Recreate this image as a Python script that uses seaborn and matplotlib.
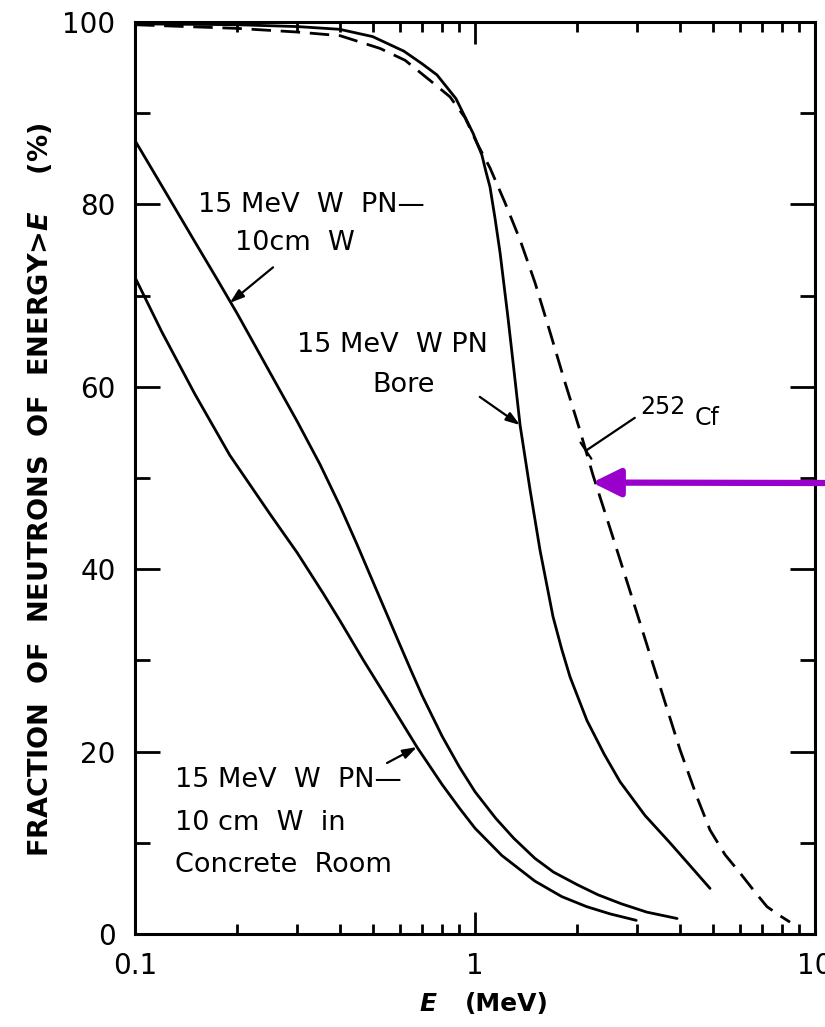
import matplotlib
matplotlib.use('Agg')
import matplotlib.pyplot as plt
from matplotlib.ticker import MultipleLocator, LogLocator, NullFormatter
import seaborn as sns

# fraction of neutrons with energy > E (%)
E_wall = [0.1, 0.125, 0.15, 0.175, 0.2, 0.25, 0.3, 0.35, 0.4, 0.45, 0.5, 0.55, 0.6,
          0.65, 0.7, 0.8, 0.9, 1.0, 1.15, 1.3, 1.5, 1.7, 2.0, 2.3, 2.7, 3.2, 3.93]
f_wall = [87.0, 80.9, 75.9, 71.7, 68.0, 61.5, 56.2, 51.5, 47.0, 42.7, 38.7, 35.1, 31.8,
          28.8, 26.1, 21.7, 18.3, 15.6, 12.7, 10.5, 8.3, 6.8, 5.4, 4.3, 3.3, 2.4, 1.7]

E_room = [0.1, 0.12, 0.15, 0.19, 0.25, 0.3, 0.357, 0.4, 0.47, 0.55, 0.675, 0.8, 0.9,
          1.0, 1.2, 1.5, 1.8, 2.13, 2.5, 2.98]
f_room = [72.0, 66.0, 59.2, 52.5, 46.0, 41.8, 37.4, 34.4, 30.0, 25.9, 20.5, 16.4, 13.8,
          11.6, 8.6, 5.8, 4.1, 3.0, 2.2, 1.5]

E_bore = [0.1, 0.2, 0.3, 0.4, 0.5, 0.618, 0.7, 0.773, 0.879, 0.987, 1.048, 1.075,
          1.107, 1.145, 1.185, 1.251, 1.302, 1.357, 1.452, 1.553, 1.696, 1.8, 1.903,
          2.135, 2.4, 2.67, 3.162, 3.745, 4.29, 4.912]
f_bore = [99.8, 99.7, 99.5, 99.2, 98.4, 96.8, 95.4, 94.2, 91.6, 87.8, 85.4, 83.7,
          81.9, 78.5, 74.7, 67.5, 61.8, 55.8, 48.7, 42.1, 34.8, 31.2, 28.2,
          23.4, 19.7, 16.7, 13.0, 10.0, 7.5, 5.0]

E_cf = [0.1, 0.2, 0.3, 0.401, 0.526, 0.623, 0.737, 0.844, 0.935, 1.014, 1.107, 1.225,
        1.357, 1.502, 1.662, 1.839, 2.036, 2.224, 2.495, 2.857, 3.383, 4.009, 4.498,
        4.912, 5.436, 6.017, 6.661, 7.224, 7.889, 8.444]
f_cf = [99.7, 99.3, 98.9, 98.5, 97.1, 95.8, 93.6, 91.8, 89.5, 86.7, 84.0, 80.2,
        76.1, 71.4, 66.0, 60.5, 55.2, 50.3, 44.5, 37.6, 28.9, 20.2, 15.0,
        11.4, 8.7, 6.7, 4.6, 3.0, 2.0, 1.3]

sns.set_style('ticks')
plt.rcParams['font.family'] = ['DejaVu Sans']
plt.rcParams['text.color'] = 'black'
plt.rcParams['xtick.color'] = 'black'
plt.rcParams['ytick.color'] = 'black'
plt.rcParams['mathtext.fontset'] = 'custom'
plt.rcParams['mathtext.it'] = 'DejaVu Sans:italic:bold'
plt.rcParams['mathtext.rm'] = 'DejaVu Sans:bold'

fig = plt.figure(figsize=(8.25, 10.27), dpi=100)
ax = fig.add_axes([0.16364, 0.09055, 0.82424, 0.88802])

lw = 2.0
sns.lineplot(x=E_wall, y=f_wall, ax=ax, color='black', lw=lw, estimator=None, sort=False)
sns.lineplot(x=E_room, y=f_room, ax=ax, color='black', lw=lw, estimator=None, sort=False)
sns.lineplot(x=E_bore, y=f_bore, ax=ax, color='black', lw=lw, estimator=None, sort=False)
sns.lineplot(x=E_cf, y=f_cf, ax=ax, color='black', lw=lw, estimator=None, sort=False,
             linestyle=(0, (7, 3.5)))

ax.set_xscale('log')
ax.set_xlim(0.1, 10)
ax.set_ylim(0, 100)
ax.set_xticks([0.1, 1, 10])
ax.set_xticklabels(['0.1', '1', '10'])
ax.xaxis.set_minor_locator(LogLocator(base=10, subs=range(2, 10)))
ax.xaxis.set_minor_formatter(NullFormatter())
ax.yaxis.set_major_locator(MultipleLocator(20))
ax.yaxis.set_minor_locator(MultipleLocator(10))
ax.set_xlabel('')
ax.set_ylabel('')

for s in ax.spines.values():
    s.set_visible(True)
    s.set_linewidth(2.2)
    s.set_color('black')

ax.tick_params(which='both', direction='in', top=True, right=True, colors='black', width=2)
ax.tick_params(axis='y', which='major', length=18, pad=14, labelsize=20)
ax.tick_params(axis='y', which='minor', length=11)
ax.tick_params(axis='x', which='major', length=16, pad=13, labelsize=20)
ax.tick_params(axis='x', which='minor', length=7)

# axis titles
fig.text(0.048, 1 - 490 / 1027, r'FRACTION  OF  NEUTRONS  OF  ENERGY>$E$    (%)',
         rotation=90, ha='center', va='center', fontsize=19.5, fontweight='bold')
fig.text(428 / 825, 1 - 1004 / 1027, 'E', ha='center', va='center',
         fontsize=18, fontweight='bold', fontstyle='italic')
fig.text(507 / 825, 1 - 1004 / 1027, '(MeV)', ha='center', va='center',
         fontsize=18, fontweight='bold')

fs = 19.5
tk = dict(transform=ax.transAxes, fontsize=fs, va='center', ha='left')
head = dict(arrowstyle='-|>,head_length=0.6,head_width=0.2', color='black',
            lw=1.6, mutation_scale=14, shrinkA=0, shrinkB=0)

# 15 MeV W PN - 10cm W
ax.text(0.0926, 0.7993, '15 MeV  W  PN\u2014', **tk)
ax.text(0.147, 0.7577, '10cm  W', **tk)
ax.annotate('', xy=(0.19, 69.2), xytext=(0.203, 0.731),
            textcoords='axes fraction', arrowprops=head)

# Bore
ax.text(0.238, 0.646, '15 MeV  W PN', **tk)
ax.text(0.3485, 0.602, 'Bore', **tk)
ax.annotate('', xy=(1.357, 55.8), xytext=(0.507, 0.589),
            textcoords='axes fraction', arrowprops=head)

# concrete room
ax.text(0.0588, 0.1689, '15 MeV  W  PN\u2014', **tk)
ax.text(0.0588, 0.1217, '10 cm  W  in', **tk)
ax.text(0.0588, 0.0757, 'Concrete  Room', **tk)
ax.annotate('', xy=(0.675, 20.5), xytext=(0.3706, 0.1875),
            textcoords='axes fraction', arrowprops=head)

# 252Cf
ax.text(0.7765, 0.578, '252', transform=ax.transAxes, fontsize=17, ha='center', va='center')
ax.text(0.841, 0.566, 'Cf', transform=ax.transAxes, fontsize=17, ha='center', va='center')
ax.annotate('', xy=(2.12, 53.0), xytext=(0.735, 0.566), textcoords='axes fraction',
            arrowprops=dict(arrowstyle='|-|,widthA=0,widthB=0.5', color='black',
                            lw=1.6, mutation_scale=14, shrinkA=0, shrinkB=0))

# purple pointer
ax.annotate('', xy=(2.21, 49.5), xytext=(1.0, 1 - 483 / 1027),
            textcoords='figure fraction', annotation_clip=False,
            arrowprops=dict(arrowstyle='-|>,head_length=0.85,head_width=0.42',
                            color='#9900CC', lw=4.5, mutation_scale=20,
                            shrinkA=0, shrinkB=0))

fig.savefig('out.png', dpi=100)
